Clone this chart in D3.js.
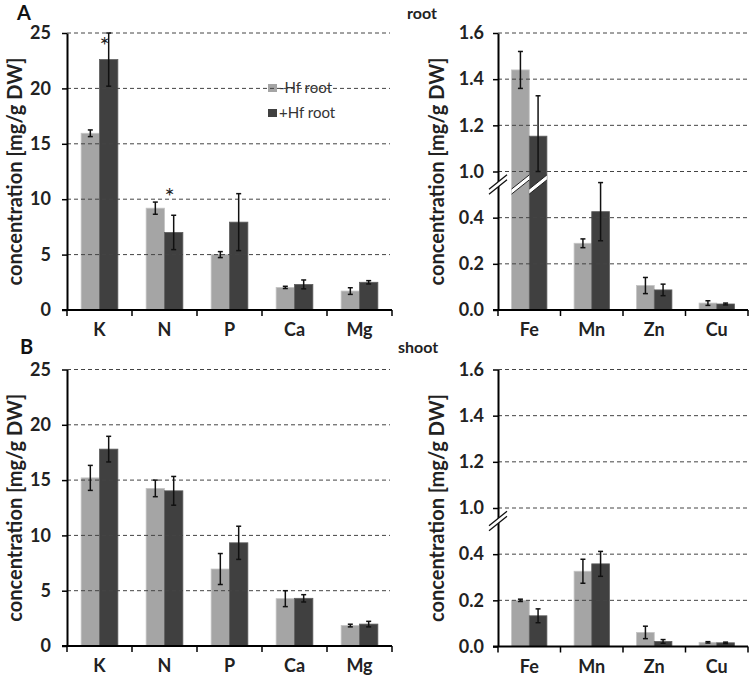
<!DOCTYPE html>
<html>
<head>
<meta charset="utf-8">
<script src="https://cdn.jsdelivr.net/npm/d3@7"></script>
<style>
  body { margin: 0; background: #fff; }
  text { font-family: Lato, "Open Sans", sans-serif; }
</style>
</head>
<body>
<div id="chart"></div>
<script>
"use strict";

// categories and series
var macroCats = ["K", "N", "P", "Ca", "Mg"];
var microCats = ["Fe", "Mn", "Zn", "Cu"];
var seriesNames = ["-Hf root", "+Hf root"];

// tick values
var macroTicks = [0, 5, 10, 15, 20, 25];
var microTicks = [0, 0.2, 0.4, 1.0, 1.2, 1.4, 1.6];

// root (A)
var rootMacroMinus = [15.95, 9.19, 5.0, 2.04, 1.71];
var rootMacroMinusErr = [0.3, 0.55, 0.27, 0.1, 0.3];
var rootMacroPlus = [22.6, 7.0, 7.93, 2.31, 2.5];
var rootMacroPlusErr = [2.4, 1.55, 2.57, 0.4, 0.15];
var rootMicroMinus = [1.44, 0.289, 0.106, 0.03];
var rootMicroMinusErr = [0.08, 0.019, 0.035, 0.01];
var rootMicroPlus = [1.153, 0.426, 0.087, 0.026];
var rootMicroPlusErr = [0.175, 0.126, 0.025, 0.004];
var rootStars = [["K", 24.4], ["N", 10.75]];

// shoot (B)
var shootMacroMinus = [15.2, 14.25, 6.96, 4.28, 1.85];
var shootMacroMinusErr = [1.13, 0.75, 1.4, 0.72, 0.12];
var shootMacroPlus = [17.8, 14.03, 9.33, 4.31, 1.98];
var shootMacroPlusErr = [1.16, 1.3, 1.5, 0.33, 0.25];
var shootMicroMinus = [0.2, 0.326, 0.061, 0.018];
var shootMicroMinusErr = [0.005, 0.052, 0.027, 0.003];
var shootMicroPlus = [0.133, 0.358, 0.022, 0.016];
var shootMicroPlusErr = [0.03, 0.054, 0.008, 0.003];

var colors = ["#a5a5a5", "#404040"];
var strokes = ["#c4c4c4", "#5e5e5e"];

var svg = d3.select("#chart").append("svg")
    .attr("width", 750)
    .attr("height", 677);

function drawPanel(p) {
    var g = svg.append("g");

    var x = d3.scaleBand().domain(p.cats).range([p.left, p.right]).padding(0);
    var xs = d3.scaleBand().domain([0, 1]).range([0, x.bandwidth()]).paddingInner(0).paddingOuter(0.77);

    var y;
    if (p.broken) {
        // lower part is linear up to 0.6, which is drawn as "1.0"; the break hides 0.6-1.0
        var step = (p.bottom - p.top) / 6;
        y = d3.scaleLinear().domain([0, 0.6, 1.0, 1.6])
            .range([p.bottom, p.bottom - 3 * step, p.bottom - 3 * step, p.top]);
    } else {
        y = d3.scaleLinear().domain([0, 25]).range([p.bottom, p.top]);
    }

    var rows = p.cats.map(function (c, i) {
        return [
            { cat: c, s: 0, v: p.minus[i], e: p.minusErr[i] },
            { cat: c, s: 1, v: p.plus[i], e: p.plusErr[i] }
        ];
    });
    var flat = [].concat.apply([], rows);

    // bars
    g.selectAll("rect.bar").data(flat).enter().append("rect")
        .attr("class", "bar")
        .attr("x", function (d) { return x(d.cat) + xs(d.s); })
        .attr("width", xs.bandwidth())
        .attr("y", function (d) { return y(d.v); })
        .attr("height", function (d) { return p.bottom - y(d.v); })
        .attr("fill", function (d) { return colors[d.s]; })
        .attr("stroke", function (d) { return strokes[d.s]; })
        .attr("stroke-width", 0.8);

    // legend (under grid lines)
    if (p.legend) {
        var lg = g.append("g").attr("transform", "translate(268,84)");
        seriesNames.forEach(function (n, i) {
            lg.append("rect").attr("x", 0).attr("y", i * 25).attr("width", 9).attr("height", 8)
                .attr("fill", colors[i]);
            lg.append("text").attr("x", 11).attr("y", i * 25 + 9)
                .attr("font-size", 15).attr("fill", "#333").text(n);
        });
    }

    // grid lines
    g.selectAll("line.grid").data(p.ticks.filter(function (t) { return t > 0; })).enter()
        .append("line")
        .attr("x1", p.left).attr("x2", p.gridRight)
        .attr("y1", function (d) { return y(d); }).attr("y2", function (d) { return y(d); })
        .attr("stroke", "#444").attr("stroke-width", 1)
        .attr("stroke-dasharray", "4,3");

    var slope = 0.8, th = 5;
    var yc = p.broken ? y(1.0) + 13 : 0;

    // axis break across bars that run through it
    if (p.broken) {
        flat.forEach(function (d) {
            if (d.v <= 1.0) return;
            var bx = x(d.cat) + xs(d.s), hw = xs.bandwidth() / 2;
            var x1 = bx, x2 = bx + 2 * hw;
            var y1 = yc + hw * slope, y2 = yc - hw * slope;
            g.append("polygon")
                .attr("points", [[x1, y1 - th / 2], [x2, y2 - th / 2], [x2, y2 + th / 2], [x1, y1 + th / 2]].join(" "))
                .attr("fill", "#fff");
            [-th / 2, th / 2].forEach(function (o) {
                g.append("line").attr("x1", x1).attr("y1", y1 + o).attr("x2", x2).attr("y2", y2 + o)
                    .attr("stroke", "#222").attr("stroke-width", 1);
            });
        });
    }

    // error bars
    var eb = g.selectAll("g.err").data(flat).enter().append("g").attr("class", "err");
    var cx = function (d) { return x(d.cat) + xs(d.s) + xs.bandwidth() / 2; };
    eb.append("line")
        .attr("x1", cx).attr("x2", cx)
        .attr("y1", function (d) { return y(d.v + d.e); })
        .attr("y2", function (d) { return y(d.v - d.e); })
        .attr("stroke", "#111").attr("stroke-width", 1.5);
    [1, -1].forEach(function (sgn) {
        eb.append("line")
            .attr("x1", function (d) { return cx(d) - 2.5; })
            .attr("x2", function (d) { return cx(d) + 2.5; })
            .attr("y1", function (d) { return y(d.v + sgn * d.e); })
            .attr("y2", function (d) { return y(d.v + sgn * d.e); })
            .attr("stroke", "#111").attr("stroke-width", 1.5);
    });

    // significance stars
    if (p.stars) {
        g.selectAll("text.star").data(p.stars).enter().append("text")
            .attr("x", function (d) { return x(d[0]) + xs(1) + xs.bandwidth() / 2 - 4; })
            .attr("y", function (d) { return y(d[1]) + 14; })
            .attr("text-anchor", "middle")
            .attr("font-size", 24).attr("fill", "#222")
            .text("*");
    }

    // y axis
    var yAxis = d3.axisLeft(y).tickValues(p.ticks).tickSize(5).tickSizeOuter(0)
        .tickFormat(p.broken ? d3.format(".1f") : d3.format("d"));
    var ya = g.append("g").attr("transform", "translate(" + p.left + ",0)").call(yAxis);
    ya.select(".domain").attr("stroke", "#000").attr("stroke-width", 2);
    ya.selectAll(".tick line").attr("stroke", "#000").attr("stroke-width", 1.5);
    ya.selectAll(".tick text").attr("font-size", 18).attr("font-weight", "bold")
        .attr("fill", "#222").attr("x", p.broken ? -14 : -16).attr("font-family", "Lato, sans-serif");

    if (p.broken) {
        // gap in the axis line at the break
        var hw = 9;
        g.append("polygon")
            .attr("points", [[p.left - hw, yc + hw * slope - th / 2], [p.left + hw, yc - hw * slope - th / 2],
                [p.left + hw, yc - hw * slope + th / 2], [p.left - hw, yc + hw * slope + th / 2]].join(" "))
            .attr("fill", "#fff");
        [-th / 2, th / 2].forEach(function (o) {
            g.append("line")
                .attr("x1", p.left - hw).attr("y1", yc + hw * slope + o)
                .attr("x2", p.left + hw).attr("y2", yc - hw * slope + o)
                .attr("stroke", "#111").attr("stroke-width", 1.3);
        });
    }

    // x axis
    g.append("line").attr("x1", p.left - 5).attr("x2", p.right)
        .attr("y1", p.bottom).attr("y2", p.bottom)
        .attr("stroke", "#000").attr("stroke-width", 2);
    var bounds = p.cats.map(function (c) { return x(c); }).concat([p.right]);
    g.selectAll("line.xt").data(bounds).enter().append("line")
        .attr("x1", function (d) { return d; }).attr("x2", function (d) { return d; })
        .attr("y1", p.bottom).attr("y2", p.bottom + 6)
        .attr("stroke", "#000").attr("stroke-width", 1.5);
    var xAxis = d3.axisBottom(x).tickSize(0).tickPadding(0);
    var xa = g.append("g").attr("transform", "translate(0," + p.bottom + ")").call(xAxis);
    xa.select(".domain").remove();
    xa.selectAll(".tick text").attr("font-size", 18).attr("font-weight", "bold")
        .attr("fill", "#222").attr("dy", "1.45em").attr("font-family", "Lato, sans-serif");

    // y label
    g.append("text")
        .attr("transform", "translate(" + p.labelX + "," + ((p.top + p.bottom) / 2) + ")rotate(-90)")
        .attr("text-anchor", "middle")
        .attr("font-size", 20).attr("font-weight", "bold").attr("fill", "#222")
        .text("concentration [mg/g DW]");
}

// panel A
drawPanel({ cats: macroCats, minus: rootMacroMinus, minusErr: rootMacroMinusErr, plus: rootMacroPlus, plusErr: rootMacroPlusErr,
    ticks: macroTicks, left: 67, right: 392, gridRight: 390, top: 33, bottom: 310, labelX: 22, legend: true, stars: rootStars });
drawPanel({ cats: microCats, minus: rootMicroMinus, minusErr: rootMicroMinusErr, plus: rootMicroPlus, plusErr: rootMicroPlusErr,
    ticks: microTicks, left: 498, right: 748, gridRight: 748, top: 33, bottom: 310, labelX: 444, broken: true });

// panel B
drawPanel({ cats: macroCats, minus: shootMacroMinus, minusErr: shootMacroMinusErr, plus: shootMacroPlus, plusErr: shootMacroPlusErr,
    ticks: macroTicks, left: 67, right: 392, gridRight: 390, top: 369.5, bottom: 646, labelX: 22 });
drawPanel({ cats: microCats, minus: shootMicroMinus, minusErr: shootMicroMinusErr, plus: shootMicroPlus, plusErr: shootMicroPlusErr,
    ticks: microTicks, left: 498, right: 748, gridRight: 748, top: 369.5, bottom: 646.5, labelX: 444, broken: true });

// panel letters and headers
svg.append("text").attr("x", 17).attr("y", 20).attr("font-size", 20).attr("font-weight", "bold").attr("fill", "#111").text("A");
svg.append("text").attr("x", 20).attr("y", 354).attr("font-size", 20).attr("font-weight", "bold").attr("fill", "#111").text("B");
svg.append("text").attr("x", 407).attr("y", 19).attr("font-size", 16).attr("font-weight", "bold").attr("fill", "#222").text("root");
svg.append("text").attr("x", 398).attr("y", 353).attr("font-size", 16).attr("font-weight", "bold").attr("fill", "#222").text("shoot");
</script>
</body>
</html>
